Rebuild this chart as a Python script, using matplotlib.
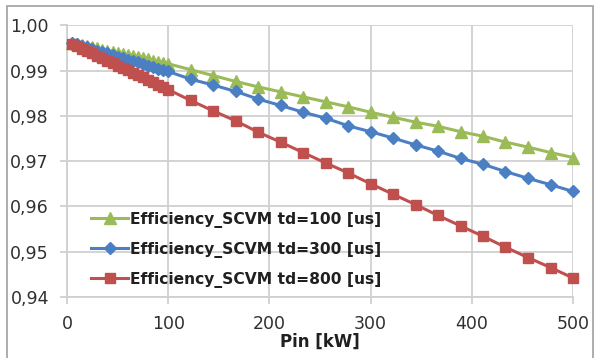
import matplotlib
matplotlib.use('Agg')
import matplotlib.pyplot as plt
from matplotlib.patches import Rectangle

# Pin [kW]: dense steps up to 100 kW, then 18 steps up to 500 kW
pin_kw = [5, 10, 15, 20, 25, 30, 35, 40, 45, 50, 55, 60, 65, 70, 75, 80, 85, 90, 95, 100,
          122.2, 144.4, 166.7, 188.9, 211.1, 233.3, 255.6, 277.8, 300, 322.2, 344.4,
          366.7, 388.9, 411.1, 433.3, 455.6, 477.8, 500]

eff_td100 = [0.9961, 0.9959, 0.9956, 0.9954, 0.9951, 0.9949, 0.9946, 0.9944, 0.9942, 0.9939,
             0.9937, 0.9934, 0.9932, 0.9929, 0.9927, 0.9925, 0.9922, 0.9920, 0.9917, 0.9915,
             0.9902, 0.9889, 0.9876, 0.9864, 0.9853, 0.9842, 0.9831, 0.9820, 0.9808, 0.9797,
             0.9786, 0.9777, 0.9765, 0.9755, 0.9742, 0.9731, 0.9719, 0.9708]

eff_td300 = [0.9961, 0.9958, 0.9954, 0.9951, 0.9948, 0.9944, 0.9941, 0.9938, 0.9934, 0.9931,
             0.9928, 0.9924, 0.9921, 0.9918, 0.9914, 0.9911, 0.9908, 0.9904, 0.9901, 0.9898,
             0.9881, 0.9868, 0.9854, 0.9837, 0.9823, 0.9808, 0.9795, 0.9778, 0.9765, 0.9751,
             0.9736, 0.9722, 0.9706, 0.9693, 0.9677, 0.9662, 0.9648, 0.9633]

eff_td800 = [0.9959, 0.9954, 0.9948, 0.9943, 0.9938, 0.9933, 0.9927, 0.9922, 0.9917, 0.9911,
             0.9906, 0.9901, 0.9895, 0.9890, 0.9885, 0.9879, 0.9874, 0.9869, 0.9863, 0.9858,
             0.9834, 0.9811, 0.9789, 0.9764, 0.9742, 0.9719, 0.9696, 0.9674, 0.9650, 0.9627,
             0.9604, 0.9580, 0.9557, 0.9534, 0.9510, 0.9487, 0.9465, 0.9442]

labels = ['Efficiency_SCVM td=100 [us]',
          'Efficiency_SCVM td=300 [us]',
          'Efficiency_SCVM td=800 [us]']

x_ticks = [0, 100, 200, 300, 400, 500]
y_ticks = [0.94, 0.95, 0.96, 0.97, 0.98, 0.99, 1.00]
y_tick_labels = ['0,94', '0,95', '0,96', '0,97', '0,98', '0,99', '1,00']

plt.rcParams['font.family'] = ['DejaVu Sans']

fig = plt.figure(figsize=(5.97, 3.58), dpi=100)
ax = fig.add_axes([67 / 597, 1 - 297 / 358, 506 / 597, (297 - 25.3) / 358])

grid_col = '#d0d0d0'
ax.plot(pin_kw, eff_td100, color='#9bbb59', marker='^', markersize=8.5, lw=2.2,
        label=labels[0], clip_on=False, zorder=3)
ax.plot(pin_kw, eff_td300, color='#4a7fc4', marker='D', markersize=6.2, lw=2.2,
        label=labels[1], clip_on=False, zorder=4)
ax.plot(pin_kw, eff_td800, color='#c0504d', marker='s', markersize=7.8, lw=2.2,
        label=labels[2], clip_on=False, zorder=5)

ax.set_xlim(0, 500)
ax.set_ylim(0.94, 1.00)
ax.set_xticks(x_ticks)
ax.set_yticks(y_ticks)
ax.set_yticklabels(y_tick_labels)
ax.grid(True, color=grid_col, lw=1.3)
ax.set_axisbelow(True)
for side in ['top', 'right']:
    ax.spines[side].set_visible(False)
for side in ['left', 'bottom']:
    ax.spines[side].set_color(grid_col)
    ax.spines[side].set_linewidth(1.3)
ax.tick_params(axis='both', length=5, width=1.3, color=grid_col,
               labelsize=12.5, labelcolor='#303030', pad=8)

ax.set_xlabel('Pin [kW]', fontsize=12, fontweight='bold', color='#202020', labelpad=0)

leg = ax.legend(loc='lower left', bbox_to_anchor=(0.035, 0.012), frameon=False,
                prop={'weight': 'bold', 'size': 11.2}, handlelength=2.4,
                handletextpad=0.1, labelspacing=0.9, borderaxespad=0)
for t in leg.get_texts():
    t.set_color('#202020')

# outer chart border
fig.patches.append(Rectangle((7 / 597, -0.05), 586 / 597, 1.05 - 6 / 358,
                             transform=fig.transFigure, fill=False,
                             edgecolor='#a0a0a0', lw=1.2))

fig.savefig('out.png', dpi=100)
